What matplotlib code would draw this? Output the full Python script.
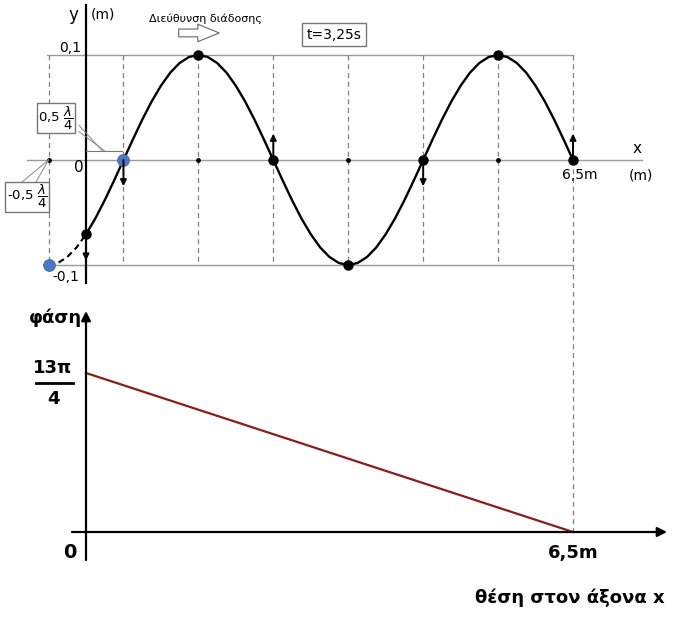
import numpy as np
import matplotlib.pyplot as plt
from matplotlib.patches import FancyArrowPatch

# ==============================================================================
#                                DATA
# ==============================================================================

# wave shape at t = 3,25 s : y (m) every 0.125 m from x = 0 to x = 6.5 m
wave_x = np.linspace(0, 6.5, 53)
wave_y = [-0.0707, -0.0556, -0.0383, -0.0195, 0.0,
          0.0195, 0.0383, 0.0556, 0.0707, 0.0832, 0.0924, 0.0981, 0.1,
          0.0981, 0.0924, 0.0832, 0.0707, 0.0556, 0.0383, 0.0195, 0.0,
          -0.0195, -0.0383, -0.0556, -0.0707, -0.0832, -0.0924, -0.0981, -0.1,
          -0.0981, -0.0924, -0.0832, -0.0707, -0.0556, -0.0383, -0.0195, 0.0,
          0.0195, 0.0383, 0.0556, 0.0707, 0.0832, 0.0924, 0.0981, 0.1,
          0.0981, 0.0924, 0.0832, 0.0707, 0.0556, 0.0383, 0.0195, 0.0]

# dashed part of the wave, x = -0.5 .. 0 m
ext_x = np.linspace(-0.5, 0, 5)
ext_y = [-0.1, -0.0981, -0.0924, -0.0832, -0.0707]

guide_x = [-0.5, 0.5, 1.5, 2.5, 3.5, 4.5, 5.5, 6.5]
amp = 0.1
x_max = 6.5

dots_x = [0, 1.5, 2.5, 3.5, 4.5, 5.5, 6.5]
dots_y = [-0.0707, 0.1, 0.0, -0.1, 0.0, 0.1, 0.0]
blue_x = [-0.5, 0.5]
blue_y = [-0.1, 0.0]
small_x = [-0.5, 1.5, 3.5, 5.5]

vel_x = [0, 0.5, 2.5, 4.5, 6.5]
vel_y = [-0.0707, 0.0, 0.0, 0.0, 0.0]
vel_dir = [-1, -1, 1, -1, 1]

phase_x = [0, 6.5]
phase_y = [13 * np.pi / 4, 0]

# ==============================================================================
#                                FIGURE
# ==============================================================================
W, H = 684, 617
fig = plt.figure(figsize=(W / 100, H / 100), dpi=100)

# pixel scales of the drawing
kx = 487 / 6.5            # px per m (horizontal)
ky = 105 / 0.1            # px per m (top graph)
kp = 159 / (13 * np.pi / 4)  # px per rad (bottom graph)

ax1 = fig.add_axes([0, 0, 1, 1])
ax1.set_xlim(-86 / kx, (W - 86) / kx)
ax1.set_ylim((160 - H) / ky, 160 / ky)
ax1.axis('off')

ax2 = fig.add_axes([0, 0, 1, 1])
ax2.set_xlim(-86 / kx, (W - 86) / kx)
ax2.set_ylim((532 - H) / kp, 532 / kp)
ax2.axis('off')
ax2.patch.set_visible(False)

gray = '#9a9a9a'
dash = '#808080'

# ---------------- top graph: y - x -----------------
ax1.plot([-0.787, 7.42], [0, 0], color=gray, lw=1)
ax1.plot([-0.52, x_max], [amp, amp], color=gray, lw=1)
ax1.plot([-0.52, x_max], [-amp, -amp], color=gray, lw=1)
for gx in guide_x:
    ax1.plot([gx, gx], [amp, -amp], color=dash, lw=0.9, linestyle=(0, (4, 3)))
# the 6.5 m guide goes down to the phase graph
ax1.plot([x_max, x_max], [-amp, (160 - 532) / ky], color=dash, lw=0.9,
         linestyle=(0, (4, 3)))

ax1.plot([0, 0], [0.1476, -0.117], color='black', lw=1.6)

ax1.plot(wave_x, wave_y, color='black', lw=1.7, solid_capstyle='round')
ax1.plot(ext_x, ext_y, color='black', lw=1.5, linestyle=(0, (3, 2)))

ax1.plot(small_x, np.zeros(len(small_x)), 'o', color='black', ms=2.5)
ax1.plot(dots_x, dots_y, 'o', color='black', ms=6.5)
ax1.plot(blue_x, blue_y, 'o', color='#4a78c8', ms=8.5, mec='#3d65aa', mew=0.6)

for x, y, d in zip(vel_x, vel_y, vel_dir):
    ax1.annotate('', xy=(x, y + d * 0.025), xytext=(x, y),
                 arrowprops=dict(arrowstyle='-|>', color='black', lw=1.4,
                                 mutation_scale=9, shrinkA=0, shrinkB=0))

ax1.text(-0.174, 0.138, 'y', fontsize=12, ha='center', va='center')
ax1.text(0.227, 0.139, '(m)', fontsize=10, ha='center', va='center')
ax1.text(-0.214, 0.107, '0,1', fontsize=10, ha='center', va='center')
ax1.text(-0.093, -0.0076, '0', fontsize=11, ha='center', va='center')
ax1.text(-0.267, -0.111, '-0,1', fontsize=10, ha='center', va='center')
ax1.text(7.354, 0.0105, 'x', fontsize=11, ha='center', va='center')
ax1.text(7.41, -0.0145, '(m)', fontsize=10, ha='center', va='center')
ax1.text(6.59, -0.0143, '6,5m', fontsize=10, ha='center', va='center')

ax1.text(1.588, 0.135, 'Διεύθυνση διάδοσης', fontsize=8, ha='center', va='center')
ax1.add_patch(FancyArrowPatch((1.20, 0.121), (1.815, 0.121),
                              arrowstyle='simple,head_width=0.9,head_length=1.1,tail_width=0.4',
                              mutation_scale=14, fc='white', ec='#666666', lw=0.8))
ax1.text(3.31, 0.1195, 't=3,25s', fontsize=10, ha='center', va='center',
         bbox=dict(boxstyle='square,pad=0.35', fc='white', ec='#777777', lw=1))

# lambda/4 markers
box = dict(boxstyle='square,pad=0.12', fc='white', ec='#777777', lw=1)
ax1.text(-0.4, 0.040, r'0,5 $\dfrac{\lambda}{4}$', fontsize=9.5, ha='center',
         va='center', bbox=box)
ax1.text(-0.79, -0.035, r'-0,5 $\dfrac{\lambda}{4}$', fontsize=9.5, ha='center',
         va='center', bbox=box)
ax1.plot([0, 0.48], [0.0086, 0.0086], color='#777777', lw=0.8)
ax1.plot([-0.093, 0.22], [0.033, 0.0086], color='#888888', lw=0.7)
ax1.plot([-0.093, 0.25], [0.027, 0.0086], color='#888888', lw=0.7)
ax1.plot([-0.88, -0.5], [-0.0225, 0], color='#888888', lw=0.7)
ax1.plot([-0.68, -0.5], [-0.0225, 0], color='#888888', lw=0.7)

# ---------------- bottom graph: phase - x -----------------
ax2.annotate('', xy=(0, 14.19), xytext=(0, -1.8),
             arrowprops=dict(arrowstyle='-|>', color='black', lw=1.6,
                             mutation_scale=14, shrinkA=0, shrinkB=0))
ax2.annotate('', xy=(7.755, 0), xytext=(-0.187, 0),
             arrowprops=dict(arrowstyle='-|>', color='black', lw=1.6,
                             mutation_scale=14, shrinkA=0, shrinkB=0))
ax2.plot(phase_x, phase_y, color='#8b1c1c', lw=1.6)

ax2.text(-0.414, 13.74, 'φάση', fontsize=13, fontweight='bold', ha='center', va='center')
ax2.text(-0.44, 10.5, '13π', fontsize=13, fontweight='bold', ha='center', va='center')
ax2.plot([-0.667, -0.174], [9.57, 9.57], color='black', lw=2)
ax2.text(-0.44, 8.55, '4', fontsize=13, fontweight='bold', ha='center', va='center')
ax2.text(-0.214, -1.3, '0', fontsize=14, fontweight='bold', ha='center', va='center')
ax2.text(6.5, -1.35, '6,5m', fontsize=13, fontweight='bold', ha='center', va='center')
ax2.text(6.46, -4.2, 'θέση στον άξονα x', fontsize=13, fontweight='bold',
         ha='center', va='center')

plt.savefig('out.png', dpi=100)
